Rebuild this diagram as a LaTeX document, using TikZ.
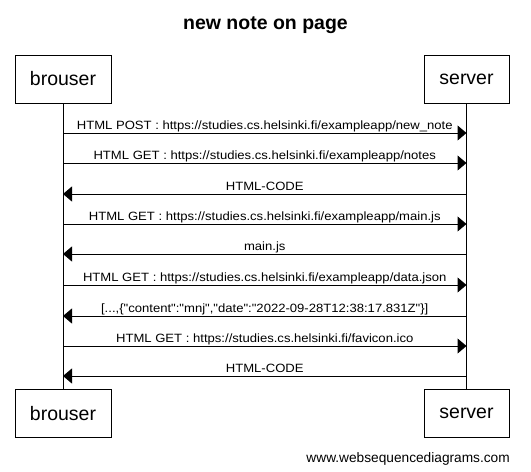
\documentclass[tikz,border=0pt]{standalone}
\usepackage{fontspec}
\setmainfont{Liberation Sans}
\newfontfamily\lblfont[FakeStretch=1.09]{Liberation Sans}
\usetikzlibrary{arrows.meta}
\begin{document}
\begin{tikzpicture}[x=1pt,y=-1pt,
  actor/.style={draw,line width=1pt,minimum width=96pt,minimum height=48pt,inner sep=0pt,font=\fontsize{19.5}{24}\selectfont},
  msg/.style={line width=1pt,-{Triangle[length=9pt,width=15pt]}},
  lbl/.style={font=\lblfont\fontsize{12}{14}\selectfont,inner sep=0pt,anchor=base},
  life/.style={line width=1pt}]
\useasboundingbox (0,0) rectangle (531,472);
\node[font=\bfseries\fontsize{19.5}{23}\selectfont,anchor=base] (title) at (265.5,29) {new note on page};
\node[actor] (bt) at (63,79) {brouser};
\node[actor,minimum width=85pt] (st) at (466.5,79) {server};
\node[actor] (bb) at (63,413.5) {brouser};
\node[actor,minimum width=85pt] (sb) at (466.5,413.5) {server};
\draw[life] (bt.south) -- (bb.north);
\draw[life] (st.south) -- (sb.north);
\foreach \y/\d/\t in {
 133/r/{HTML POST : https://studies.cs.helsinki.fi/exampleapp/new\_note},
 163/r/{HTML GET : https://studies.cs.helsinki.fi/exampleapp/notes},
 194/l/{HTML-CODE},
 224/r/{HTML GET : https://studies.cs.helsinki.fi/exampleapp/main.js},
 254/l/{main.js},
 285/r/{HTML GET : https://studies.cs.helsinki.fi/exampleapp/data.json},
 316/l/{[...,\{"content":"mnj","date":"2022-09-28T12:38:17.831Z"\}]},
 346/r/{HTML GET : https://studies.cs.helsinki.fi/favicon.ico},
 376/l/{HTML-CODE}}{
  \coordinate (a\y) at (63,\y);
  \coordinate (b\y) at (466.5,\y);
  \if r\d
    \draw[msg] (a\y) -- (b\y);
  \else
    \draw[msg] (b\y) -- (a\y);
  \fi
  \node[lbl] (m\y) at (264.75,\y-4) {\t};
}
\node[font=\fontsize{13.7}{16}\selectfont,anchor=base east,inner sep=0pt] (wsd) at (510,462) {www.websequencediagrams.com};
\end{tikzpicture}
\end{document}
